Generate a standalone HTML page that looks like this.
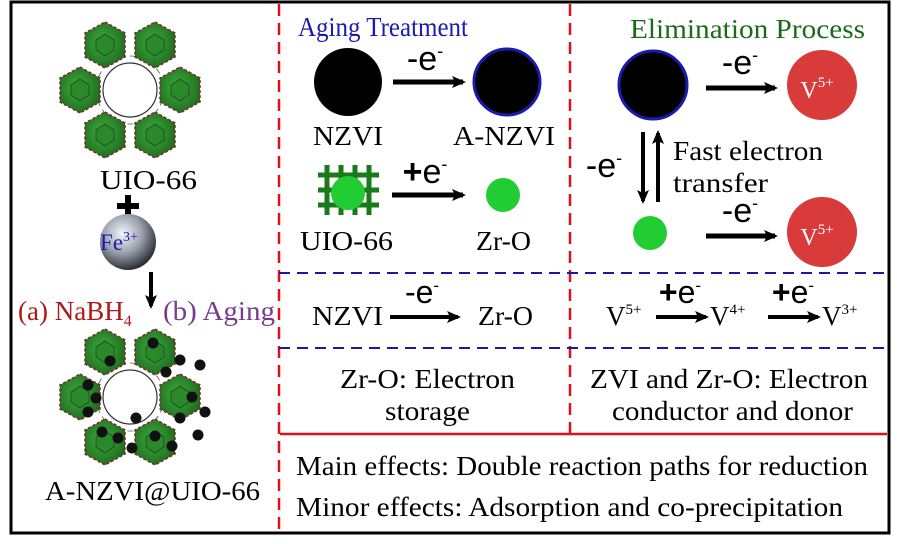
<!DOCTYPE html>
<html><head><meta charset="utf-8"><style>
html,body{margin:0;padding:0;background:#fff;}
svg{display:block;font-family:"Liberation Serif",serif;}
</style></head><body>
<svg width="897" height="544" viewBox="0 0 897 544" xmlns="http://www.w3.org/2000/svg">
<defs>
<radialGradient id="fe" cx="0.4" cy="0.35" r="0.7"><stop offset="0" stop-color="#f4f6fa"/><stop offset="0.5" stop-color="#9aa0ac"/><stop offset="1" stop-color="#1c1f26"/></radialGradient>
<radialGradient id="hx" cx="0.45" cy="0.45" r="0.6"><stop offset="0" stop-color="#3fae3f"/><stop offset="1" stop-color="#1d6a1d"/></radialGradient>
<g id="hex"><polygon points="0,-23 20,-12 20,12 0,23 -20,12 -20,-12" fill="url(#hx)" stroke="#7a2a2a" stroke-width="1.5" stroke-dasharray="3 2"/><polygon points="0,-11 9,-5 9,5 0,11 -9,5 -9,-5" fill="#2a8a2a" stroke="#1a4a1a" stroke-width="0.8"/></g>
<g id="ring"><circle cx="0" cy="0" r="27" fill="none" stroke="#333" stroke-width="1.2"/><circle cx="0" cy="0" r="34" fill="none" stroke="#555" stroke-width="0.8" stroke-dasharray="6 4"/>
<use href="#hex" x="-25" y="-45"/><use href="#hex" x="25" y="-45"/><use href="#hex" x="-50" y="0"/><use href="#hex" x="50" y="0"/><use href="#hex" x="-25" y="45"/><use href="#hex" x="25" y="45"/></g>
<marker id="ah" markerWidth="14" markerHeight="12" refX="11" refY="6" orient="auto" markerUnits="userSpaceOnUse"><path d="M0,0 L14,6 L0,12 L3,6 z" fill="#000"/></marker>
</defs>
<rect x="11" y="2" width="878" height="531" fill="#fff" stroke="#000" stroke-width="3"/>
<line x1="279" y1="4" x2="279" y2="532" stroke="#e0101a" stroke-width="2.5" stroke-dasharray="12 7"/>
<line x1="570" y1="4" x2="570" y2="433" stroke="#e0101a" stroke-width="2.5" stroke-dasharray="12 7"/>
<line x1="279" y1="273" x2="887" y2="273" stroke="#1a1aa0" stroke-width="2" stroke-dasharray="11 7"/>
<line x1="279" y1="348" x2="887" y2="348" stroke="#1a1aa0" stroke-width="2" stroke-dasharray="11 7"/>
<line x1="280" y1="434" x2="887" y2="434" stroke="#e0101a" stroke-width="2.5"/>
<!-- left panel -->
<use href="#ring" x="130" y="90"/>
<text x="100" y="189" font-size="27" textLength="97" lengthAdjust="spacingAndGlyphs">UIO-66</text>
<rect x="117" y="203" width="22" height="6" fill="#000"/><rect x="125" y="195" width="6" height="22" fill="#000"/>
<circle cx="128" cy="242" r="28" fill="url(#fe)"/>
<text x="119" y="250" font-size="23" fill="#1a1ab0" text-anchor="middle">Fe<tspan font-size="14" dy="-9">3+</tspan></text>
<line x1="151" y1="272" x2="151" y2="306" stroke="#000" stroke-width="4" marker-end="url(#ah)"/>
<text x="18" y="320" font-size="27" fill="#b01818">(a) NaBH<tspan font-size="16" dy="6">4</tspan></text>
<text x="163" y="320" font-size="27" fill="#7a3a90" textLength="112" lengthAdjust="spacingAndGlyphs">(b) Aging</text>
<use href="#ring" x="130" y="397"/>
<g fill="#111">
<circle cx="153" cy="343" r="5.5"/><circle cx="110" cy="361" r="5.5"/><circle cx="166" cy="372" r="5.5"/><circle cx="180" cy="360" r="5.5"/><circle cx="200" cy="365" r="5.5"/>
<circle cx="88" cy="385" r="5.5"/><circle cx="96" cy="398" r="5.5"/><circle cx="88" cy="412" r="5.5"/><circle cx="192" cy="397" r="5.5"/><circle cx="205" cy="412" r="5.5"/>
<circle cx="136" cy="418" r="5.5"/><circle cx="180" cy="418" r="5.5"/><circle cx="118" cy="438" r="5.5"/><circle cx="155" cy="436" r="5.5"/><circle cx="198" cy="435" r="5.5"/><circle cx="132" cy="448" r="5.5"/><circle cx="172" cy="446" r="5.5"/><circle cx="102" cy="432" r="5.5"/>
</g>
<text x="45" y="500" font-size="27" textLength="215" lengthAdjust="spacingAndGlyphs">A-NZVI@UIO-66</text>
<!-- middle -->
<text x="298" y="36" font-size="27" fill="#1a1ab0" textLength="170" lengthAdjust="spacingAndGlyphs">Aging Treatment</text>
<circle cx="348" cy="82" r="34" fill="#000"/>
<line x1="393" y1="82" x2="463" y2="82" stroke="#000" stroke-width="5" marker-end="url(#ah)"/>
<text x="425" y="70" font-size="34" text-anchor="middle" font-family="Liberation Sans,sans-serif">-e<tspan font-size="18" dy="-13">-</tspan></text>
<circle cx="507" cy="82" r="33" fill="#000" stroke="#1a1ab0" stroke-width="3"/>
<text x="313" y="145" font-size="27" textLength="70" lengthAdjust="spacingAndGlyphs">NZVI</text>
<text x="453" y="145" font-size="27" textLength="102" lengthAdjust="spacingAndGlyphs">A-NZVI</text>
<g stroke="#1a7a1a" stroke-width="5"><line x1="327" y1="165" x2="327" y2="215"/><line x1="341" y1="165" x2="341" y2="215"/><line x1="355" y1="165" x2="355" y2="215"/><line x1="369" y1="165" x2="369" y2="215"/><line x1="318" y1="175" x2="379" y2="175"/><line x1="318" y1="190" x2="379" y2="190"/><line x1="318" y1="205" x2="379" y2="205"/></g>
<circle cx="348" cy="193" r="17" fill="#22cc33"/>
<line x1="392" y1="195" x2="463" y2="195" stroke="#000" stroke-width="5" marker-end="url(#ah)"/>
<text x="425" y="183" font-size="34" text-anchor="middle" font-family="Liberation Sans,sans-serif"><tspan font-weight="bold">+</tspan>e<tspan font-size="18" dy="-13">-</tspan></text>
<circle cx="503" cy="195" r="17" fill="#22cc33"/>
<text x="300" y="250" font-size="27" textLength="93" lengthAdjust="spacingAndGlyphs">UIO-66</text>
<text x="476" y="250" font-size="27" textLength="55" lengthAdjust="spacingAndGlyphs">Zr-O</text>
<text x="312" y="325" font-size="27" textLength="71" lengthAdjust="spacingAndGlyphs">NZVI</text>
<line x1="390" y1="317" x2="458" y2="317" stroke="#000" stroke-width="4" marker-end="url(#ah)"/>
<text x="422" y="303" font-size="32" text-anchor="middle" font-family="Liberation Sans,sans-serif">-e<tspan font-size="17" dy="-12">-</tspan></text>
<text x="478" y="325" font-size="27" textLength="55" lengthAdjust="spacingAndGlyphs">Zr-O</text>
<text x="340" y="388" font-size="27" textLength="175" lengthAdjust="spacingAndGlyphs">Zr-O: Electron</text>
<text x="385" y="420" font-size="27" textLength="85" lengthAdjust="spacingAndGlyphs">storage</text>
<!-- right -->
<text x="630" y="38" font-size="27" fill="#1a6a1a" textLength="235" lengthAdjust="spacingAndGlyphs">Elimination Process</text>
<circle cx="653" cy="85" r="34" fill="#000" stroke="#1a1ab0" stroke-width="3"/>
<line x1="706" y1="88" x2="775" y2="88" stroke="#000" stroke-width="5" marker-end="url(#ah)"/>
<text x="740" y="74" font-size="34" text-anchor="middle" font-family="Liberation Sans,sans-serif">-e<tspan font-size="18" dy="-13">-</tspan></text>
<circle cx="822" cy="85" r="35" fill="#d93a3a"/>
<text x="817" y="98" font-size="24" fill="#fff" text-anchor="middle">V<tspan font-size="15" dy="-11">5+</tspan></text>
<line x1="643" y1="132" x2="643" y2="201" stroke="#000" stroke-width="4" marker-end="url(#ah)"/>
<line x1="658" y1="202" x2="658" y2="133" stroke="#000" stroke-width="4" marker-end="url(#ah)"/>
<text x="604" y="177" font-size="34" text-anchor="middle" font-family="Liberation Sans,sans-serif">-e<tspan font-size="18" dy="-13">-</tspan></text>
<text x="673" y="160" font-size="27" textLength="150" lengthAdjust="spacingAndGlyphs">Fast electron</text>
<text x="673" y="192" font-size="27" textLength="95" lengthAdjust="spacingAndGlyphs">transfer</text>
<circle cx="650" cy="233" r="17" fill="#22cc33"/>
<line x1="706" y1="236" x2="775" y2="236" stroke="#000" stroke-width="5" marker-end="url(#ah)"/>
<text x="740" y="222" font-size="34" text-anchor="middle" font-family="Liberation Sans,sans-serif">-e<tspan font-size="18" dy="-13">-</tspan></text>
<circle cx="822" cy="232" r="35" fill="#d93a3a"/>
<text x="817" y="245" font-size="24" fill="#fff" text-anchor="middle">V<tspan font-size="15" dy="-11">5+</tspan></text>
<text x="606" y="325" font-size="27">V<tspan font-size="15" dy="-11">5+</tspan></text>
<line x1="656" y1="317" x2="706" y2="317" stroke="#000" stroke-width="4" marker-end="url(#ah)"/>
<text x="680" y="303" font-size="32" text-anchor="middle" font-family="Liberation Sans,sans-serif"><tspan font-weight="bold">+</tspan>e<tspan font-size="17" dy="-12">-</tspan></text>
<text x="710" y="325" font-size="27">V<tspan font-size="15" dy="-11">4+</tspan></text>
<line x1="768" y1="317" x2="818" y2="317" stroke="#000" stroke-width="4" marker-end="url(#ah)"/>
<text x="793" y="303" font-size="32" text-anchor="middle" font-family="Liberation Sans,sans-serif"><tspan font-weight="bold">+</tspan>e<tspan font-size="17" dy="-12">-</tspan></text>
<text x="822" y="325" font-size="27">V<tspan font-size="15" dy="-11">3+</tspan></text>
<text x="590" y="388" font-size="27" textLength="278" lengthAdjust="spacingAndGlyphs">ZVI and Zr-O: Electron</text>
<text x="612" y="420" font-size="27" textLength="241" lengthAdjust="spacingAndGlyphs">conductor and donor</text>
<!-- bottom box -->
<text x="296" y="475" font-size="27" textLength="572" lengthAdjust="spacingAndGlyphs">Main effects: Double reaction paths for reduction</text>
<text x="296" y="516" font-size="27" textLength="547" lengthAdjust="spacingAndGlyphs">Minor effects: Adsorption and co-precipitation</text>
</svg>
</body></html>
